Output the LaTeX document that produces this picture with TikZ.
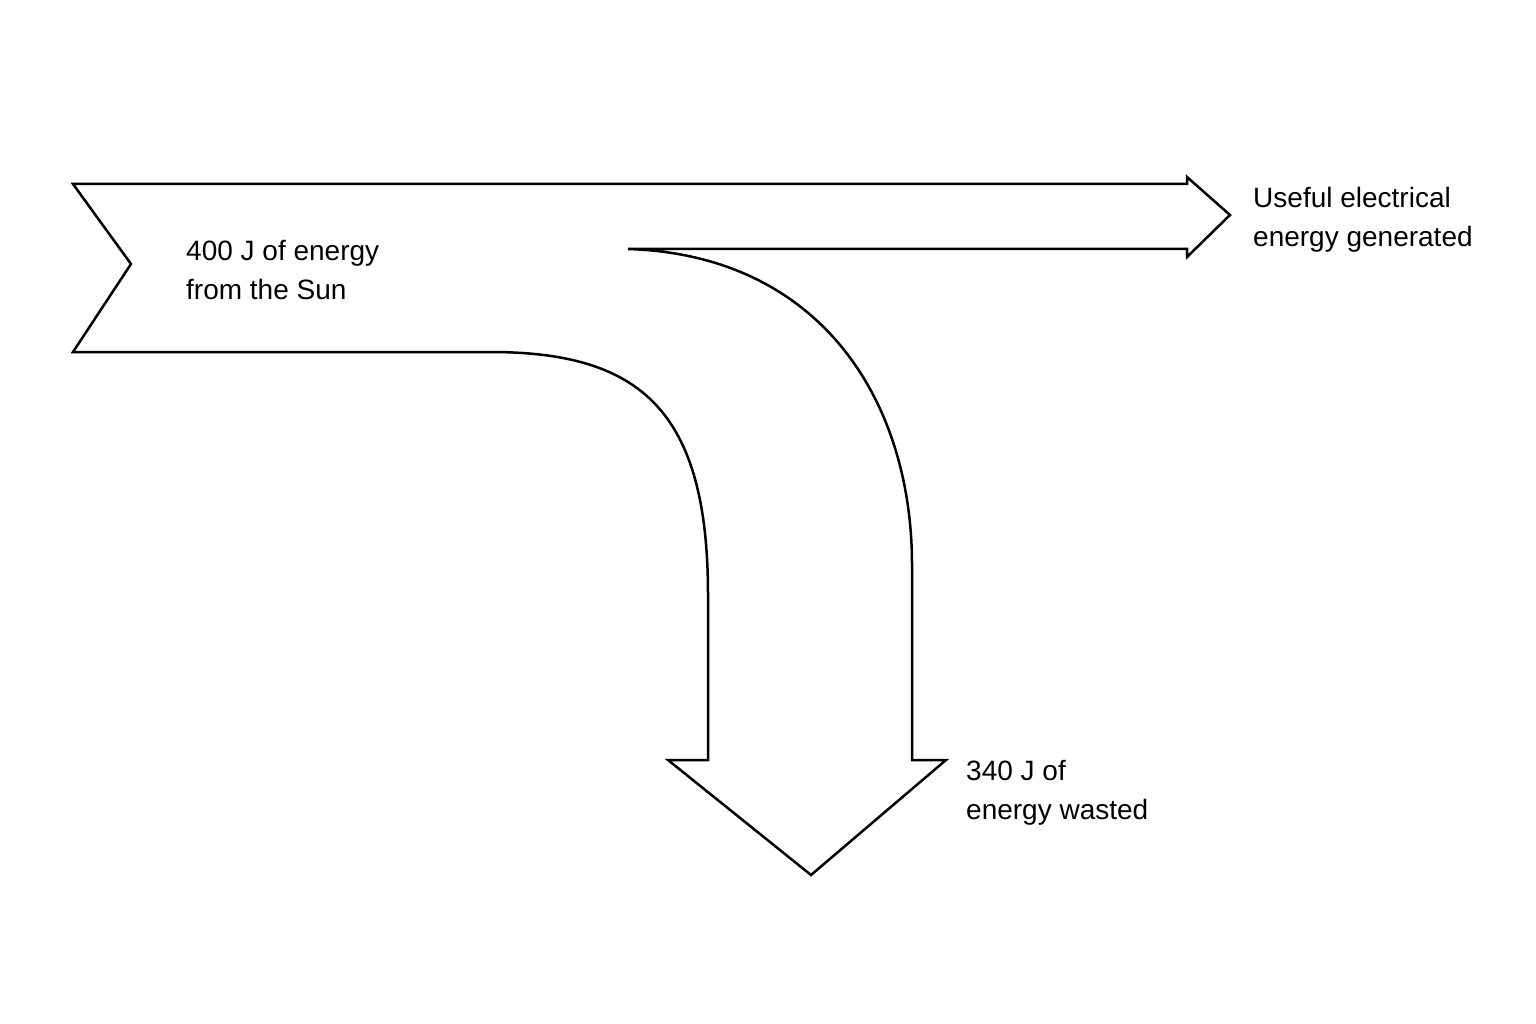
\documentclass[tikz,border=0pt]{standalone}
\usepackage{fontspec}
\setmainfont{Liberation Sans}
\begin{document}
\begin{tikzpicture}[x=1pt,y=-1pt,
  lbl/.style={anchor=west,align=left,font=\fontsize{28}{39}\selectfont,inner sep=0pt},
  band/.style={draw=black,line width=2.5pt,line join=miter,fill=white}]
\useasboundingbox (0,0) rectangle (1536,1024);
\draw[band] (73,184) -- (1187,184) -- (1187,177) -- (1230,215) -- (1187,257) -- (1187,249)
  -- (628,249) .. controls (820,255) and (912,400) .. (912,565)
  -- (912,760) -- (946,760) -- (811,875) -- (668,760) -- (708,760) -- (708,595)
  .. controls (708,410) and (640,352) .. (490,352)
  -- (73,352) -- (131,264) -- cycle;
\node[lbl] (sun) at (186,270) {400 J of energy\\from the Sun};
\node[lbl] (use) at (1253,220) {Useful electrical\\energy generated};
\node[lbl] (waste) at (966,793) {340 J of\\energy wasted};
\end{tikzpicture}
\end{document}
